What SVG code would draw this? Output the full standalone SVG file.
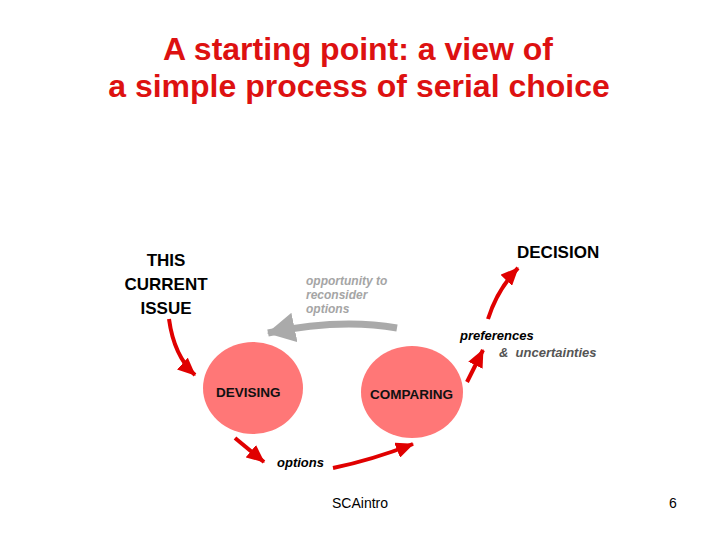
<svg xmlns="http://www.w3.org/2000/svg" width="720" height="540" viewBox="0 0 720 540">
<style>
.title{font-family:"Liberation Sans",Arial,sans-serif;font-weight:bold;font-size:32px;fill:#DD1111;text-anchor:middle}
.big{font-family:"Liberation Sans",Arial,sans-serif;font-weight:bold;font-size:17px;fill:#000}
.node{fill:#FF7777}
.nlabel{font-family:"Liberation Sans",Arial,sans-serif;font-weight:bold;font-size:13.5px;fill:#111}
.lbl{font-family:"Liberation Sans",Arial,sans-serif;font-weight:bold;font-style:italic;font-size:13px}
.plain{font-family:"Liberation Sans",Arial,sans-serif;font-size:14px;fill:#000}
.red{fill:none;stroke:#E00000;stroke-width:4;stroke-linecap:butt}
.grey{fill:none;stroke:#AAAAAA;stroke-width:7}
</style>
<defs>
<marker id="ah" markerUnits="userSpaceOnUse" markerWidth="18" markerHeight="16" viewBox="0 0 18 16" refX="17" refY="8" orient="auto">
<path d="M0,0 L18,8 L0,16 z" fill="#E00000"/>
</marker>
<marker id="ahg" markerUnits="userSpaceOnUse" markerWidth="28" markerHeight="30" viewBox="0 0 28 30" refX="27" refY="15" orient="auto">
<path d="M0,0 L28,15 L0,30 z" fill="#AAAAAA"/>
</marker>
</defs>
<text class="title" x="358" y="60">A starting point: a view of</text>
<text class="title" x="359" y="97">a simple process of serial choice</text>
<g id="issue">
<text class="big" text-anchor="middle" x="166" y="266">THIS</text>
<text class="big" text-anchor="middle" x="166" y="290">CURRENT</text>
<text class="big" text-anchor="middle" x="166" y="314">ISSUE</text>
</g>
<g id="decision">
<text class="big" x="517" y="258">DECISION</text>
</g>
<g id="devising">
<ellipse class="node" cx="253" cy="388" rx="50" ry="46"/>
<text class="nlabel" x="216" y="397">DEVISING</text>
</g>
<g id="comparing">
<ellipse class="node" cx="412" cy="392" rx="51" ry="46"/>
<text class="nlabel" x="370" y="399">COMPARING</text>
</g>
<g id="labels">
<text class="lbl" x="306" y="285" style="fill:#A5A5A5;font-size:12px">opportunity to</text>
<text class="lbl" x="306" y="299" style="fill:#A5A5A5;font-size:12px">reconsider</text>
<text class="lbl" x="306" y="313" style="fill:#A5A5A5;font-size:12px">options</text>
<text class="lbl" x="460" y="340" style="fill:#000">preferences</text>
<text class="lbl" x="499" y="357" style="fill:#555" xml:space="preserve">&amp;  uncertainties</text>
<text class="lbl" x="277" y="467" style="fill:#000">options</text>
</g>
<g id="connectors">
<path class="red" d="M169,319 Q174,356 195,375" marker-end="url(#ah)"/>
<path class="grey" d="M397,328 Q340,318 268,333" marker-end="url(#ahg)"/>
<path class="red" d="M467,382 L483,350" marker-end="url(#ah)"/>
<path class="red" d="M488,319 Q497,290 518,268" marker-end="url(#ah)"/>
<path class="red" d="M235,438 L264,462" marker-end="url(#ah)"/>
<path class="red" d="M333,468 Q372,460 413,444" marker-end="url(#ah)"/>
</g>
<text class="plain" x="332" y="508">SCAintro</text>
<text class="plain" x="669" y="508">6</text>
</svg>
